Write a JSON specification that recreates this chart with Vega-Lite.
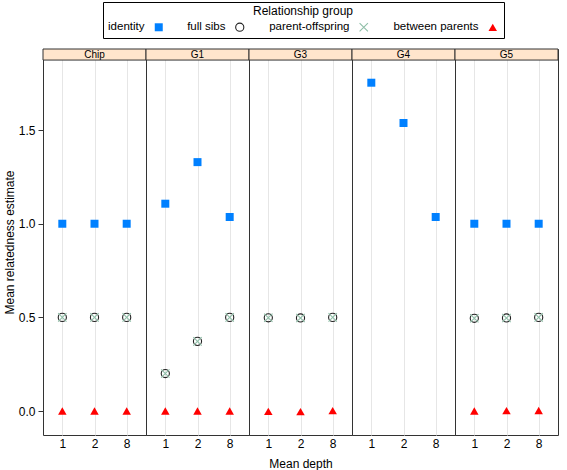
{
  "$schema": "https://vega.github.io/schema/vega-lite/v6.json",
  "background": "white",
  "padding": {"left": 3, "top": 1, "right": 4, "bottom": 0},
  "bounds": "flush",
  "config": {
    "font": "Liberation Sans",
    "view": {"stroke": "#333333", "strokeWidth": 1},
    "facet": {"spacing": 0},
    "axis": {"labelColor": "black", "titleColor": "black", "tickColor": "#333333", "titleFontWeight": "normal", "domain": false, "labelFontSize": 12, "titleFontSize": 12},
    "legend": {"labelFontSize": 11.5, "titleFontSize": 12, "titleFontWeight": "normal", "labelColor": "black", "titleColor": "black"}
  },
  "data": {
    "values": [
      {"panel": "Chip", "depth": "1", "group": "identity", "value": 1.0},
      {"panel": "Chip", "depth": "2", "group": "identity", "value": 1.0},
      {"panel": "Chip", "depth": "8", "group": "identity", "value": 1.0},
      {"panel": "Chip", "depth": "1", "group": "full sibs", "value": 0.5},
      {"panel": "Chip", "depth": "2", "group": "full sibs", "value": 0.5},
      {"panel": "Chip", "depth": "8", "group": "full sibs", "value": 0.5},
      {"panel": "Chip", "depth": "1", "group": "parent-offspring", "value": 0.5},
      {"panel": "Chip", "depth": "2", "group": "parent-offspring", "value": 0.5},
      {"panel": "Chip", "depth": "8", "group": "parent-offspring", "value": 0.5},
      {"panel": "Chip", "depth": "1", "group": "between parents", "value": 0.0},
      {"panel": "Chip", "depth": "2", "group": "between parents", "value": 0.0},
      {"panel": "Chip", "depth": "8", "group": "between parents", "value": 0.0},
      {"panel": "G1", "depth": "1", "group": "identity", "value": 1.107},
      {"panel": "G1", "depth": "2", "group": "identity", "value": 1.329},
      {"panel": "G1", "depth": "8", "group": "identity", "value": 1.036},
      {"panel": "G1", "depth": "1", "group": "full sibs", "value": 0.2},
      {"panel": "G1", "depth": "2", "group": "full sibs", "value": 0.372},
      {"panel": "G1", "depth": "8", "group": "full sibs", "value": 0.5},
      {"panel": "G1", "depth": "1", "group": "parent-offspring", "value": 0.2},
      {"panel": "G1", "depth": "2", "group": "parent-offspring", "value": 0.372},
      {"panel": "G1", "depth": "8", "group": "parent-offspring", "value": 0.5},
      {"panel": "G1", "depth": "1", "group": "between parents", "value": 0.0},
      {"panel": "G1", "depth": "2", "group": "between parents", "value": 0.0},
      {"panel": "G1", "depth": "8", "group": "between parents", "value": 0.0},
      {"panel": "G3", "depth": "1", "group": "identity", "value": null},
      {"panel": "G3", "depth": "2", "group": "identity", "value": null},
      {"panel": "G3", "depth": "8", "group": "identity", "value": null},
      {"panel": "G3", "depth": "1", "group": "full sibs", "value": 0.498},
      {"panel": "G3", "depth": "2", "group": "full sibs", "value": 0.497},
      {"panel": "G3", "depth": "8", "group": "full sibs", "value": 0.5},
      {"panel": "G3", "depth": "1", "group": "parent-offspring", "value": 0.498},
      {"panel": "G3", "depth": "2", "group": "parent-offspring", "value": 0.497},
      {"panel": "G3", "depth": "8", "group": "parent-offspring", "value": 0.5},
      {"panel": "G3", "depth": "1", "group": "between parents", "value": -0.002},
      {"panel": "G3", "depth": "2", "group": "between parents", "value": -0.003},
      {"panel": "G3", "depth": "8", "group": "between parents", "value": 0.002},
      {"panel": "G4", "depth": "1", "group": "identity", "value": 1.753},
      {"panel": "G4", "depth": "2", "group": "identity", "value": 1.538},
      {"panel": "G4", "depth": "8", "group": "identity", "value": 1.036},
      {"panel": "G4", "depth": "1", "group": "full sibs", "value": null},
      {"panel": "G4", "depth": "2", "group": "full sibs", "value": null},
      {"panel": "G4", "depth": "8", "group": "full sibs", "value": null},
      {"panel": "G4", "depth": "1", "group": "parent-offspring", "value": null},
      {"panel": "G4", "depth": "2", "group": "parent-offspring", "value": null},
      {"panel": "G4", "depth": "8", "group": "parent-offspring", "value": null},
      {"panel": "G4", "depth": "1", "group": "between parents", "value": null},
      {"panel": "G4", "depth": "2", "group": "between parents", "value": null},
      {"panel": "G4", "depth": "8", "group": "between parents", "value": null},
      {"panel": "G5", "depth": "1", "group": "identity", "value": 1.0},
      {"panel": "G5", "depth": "2", "group": "identity", "value": 1.0},
      {"panel": "G5", "depth": "8", "group": "identity", "value": 1.0},
      {"panel": "G5", "depth": "1", "group": "full sibs", "value": 0.495},
      {"panel": "G5", "depth": "2", "group": "full sibs", "value": 0.497},
      {"panel": "G5", "depth": "8", "group": "full sibs", "value": 0.5},
      {"panel": "G5", "depth": "1", "group": "parent-offspring", "value": 0.495},
      {"panel": "G5", "depth": "2", "group": "parent-offspring", "value": 0.497},
      {"panel": "G5", "depth": "8", "group": "parent-offspring", "value": 0.5},
      {"panel": "G5", "depth": "1", "group": "between parents", "value": 0.0},
      {"panel": "G5", "depth": "2", "group": "between parents", "value": 0.002},
      {"panel": "G5", "depth": "8", "group": "between parents", "value": 0.003}
    ]
  },
  "facet": {
    "column": {
      "field": "panel", "type": "nominal",
      "sort": ["Chip", "G1", "G3", "G4", "G5"],
      "header": {"labels": false, "title": "Mean depth", "titleOrient": "bottom", "titleFontSize": 12, "titleFontWeight": "normal", "titleColor": "black", "titlePadding": 0}
    }
  },
  "spacing": 0,
  "spec": {
    "width": 103,
    "height": 386,
    "layer": [
      {
        "mark": {"type": "point", "opacity": 1, "strokeWidth": 1.1},
        "encoding": {
          "x": {"field": "depth", "type": "nominal", "sort": ["1", "2", "8"],
                "scale": {"type": "point", "padding": 0.6},
                "axis": {"title": null, "labelAngle": 0, "grid": true, "gridColor": "#e6e6e6", "ticks": false, "labelPadding": 3}},
          "y": {"field": "value", "type": "quantitative",
                "scale": {"domain": [-0.128, 1.933], "nice": false, "zero": false},
                "axis": {"title": "Mean relatedness estimate", "values": [0, 0.5, 1, 1.5], "format": ".1f", "grid": false, "tickSize": 5, "labelPadding": 3, "titlePadding": 2}},
          "shape": {"field": "group", "type": "nominal", "title": "Relationship group",
                    "scale": {"domain": ["identity", "full sibs", "parent-offspring", "between parents"],
                              "range": ["square", "circle", "M-1,-1L1,1M-1,1L1,-1", "triangle-up"]},
                    "legend": {"orient": "none", "legendX": 60, "legendY": -47, "direction": "horizontal", "titleAnchor": "middle", "strokeColor": "black", "padding": 4, "columnPadding": 22, "symbolOffset": 46, "symbolStrokeWidth": 1.1, "titlePadding": 3, "labelAlign": "right", "labelOffset": -20}},
          "fill": {"field": "group", "type": "nominal", "title": "Relationship group",
                   "scale": {"domain": ["identity", "full sibs", "parent-offspring", "between parents"],
                             "range": ["#0080ff", "transparent", "transparent", "#ff0000"]}},
          "stroke": {"field": "group", "type": "nominal", "title": "Relationship group",
                     "scale": {"domain": ["identity", "full sibs", "parent-offspring", "between parents"],
                               "range": ["transparent", "#222222", "#8fbfa8", "transparent"]}},
          "size": {"field": "group", "type": "nominal", "title": "Relationship group",
                   "scale": {"domain": ["identity", "full sibs", "parent-offspring", "between parents"],
                             "range": [64, 72, 64, 115]}}
        }
      },
      {
        "transform": [{"filter": "datum.group === 'identity' && datum.depth === '1'"}],
        "mark": {"type": "rect", "fill": "#ffe5cc", "stroke": "#333333", "strokeWidth": 1},
        "encoding": {
          "y": {"datum": 1.874, "type": "quantitative"},
          "y2": {"datum": 1.933}
        }
      },
      {
        "transform": [{"filter": "datum.group === 'identity' && datum.depth === '1'"}],
        "mark": {"type": "text", "fontSize": 10, "fontWeight": "normal", "color": "black", "baseline": "middle"},
        "encoding": {
          "y": {"datum": 1.9035, "type": "quantitative"},
          "text": {"field": "panel"}
        }
      }
    ]
  }
}
